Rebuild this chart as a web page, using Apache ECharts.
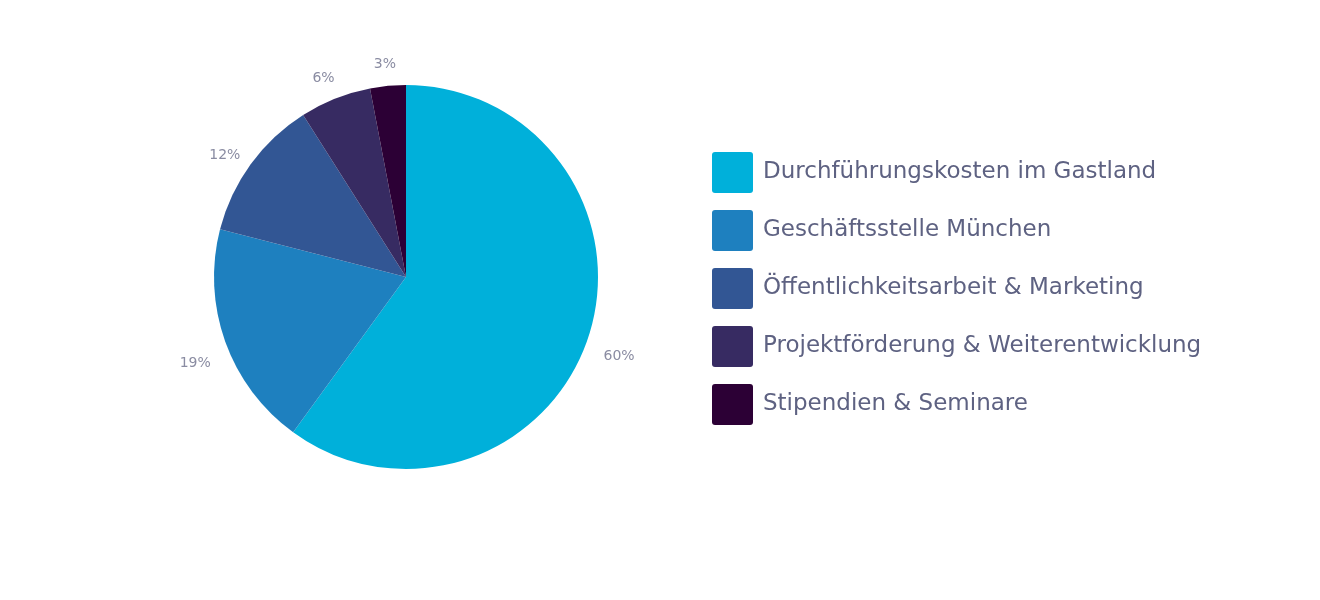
<!DOCTYPE html>
<html><head><meta charset="utf-8">
<script src="https://cdn.jsdelivr.net/npm/echarts@6/dist/echarts.min.js"></script>
<style>html,body{margin:0;padding:0;background:#fff}#c{width:1320px;height:600px}</style>
</head><body><div id="c"></div>
<script>
const categories = ["Durchführungskosten im Gastland","Geschäftsstelle München","Öffentlichkeitsarbeit & Marketing","Projektförderung & Weiterentwicklung","Stipendien & Seminare"];
const values = [60, 19, 12, 6, 3];
const colors = ["#00b0da","#1e80bf","#325694","#372b62","#2c0035"];

const CX = 406, CY = 277, R = 192, LABEL_R = 224, LABEL_DY = 10;
const total = values.reduce((a,b)=>a+b,0);
const midAngles = [];
{ let cum = 0; values.forEach(v=>{ midAngles.push(2*Math.PI*(cum+v/2)/total); cum += v; }); }

const chart = echarts.init(document.getElementById('c'));
chart.setOption({
  animation:false,
  color: colors,
  legend:{
    orient:'vertical', left:712, top:152, padding:0,
    itemWidth:41, itemHeight:41, itemGap:17,
    icon:'path://M3,0 H38 Q41,0 41,3 V38 Q41,41 38,41 H3 Q0,41 0,38 V3 Q0,0 3,0 Z',
    textStyle:{fontFamily:'DejaVu Sans', fontSize:23, color:'#5e6282', padding:[0,0,0,5]},
    data: categories
  },
  series:[{
    type:'pie', center:[CX,CY], radius:R, startAngle:90, clockwise:true,
    data: categories.map((n,i)=>({name:n, value:values[i]})),
    label:{show:true, position:'outside', formatter:'{d}%', fontFamily:'DejaVu Sans', fontSize:14, color:'#8a8ca2'},
    labelLine:{show:false},
    labelLayout: function(p){
      const a = midAngles[p.dataIndex];
      return {x: CX + LABEL_R*Math.sin(a), y: CY + LABEL_DY - LABEL_R*Math.cos(a), align:'center', verticalAlign:'middle'};
    },
    itemStyle:{borderWidth:0}
  }]
});
</script></body></html>
